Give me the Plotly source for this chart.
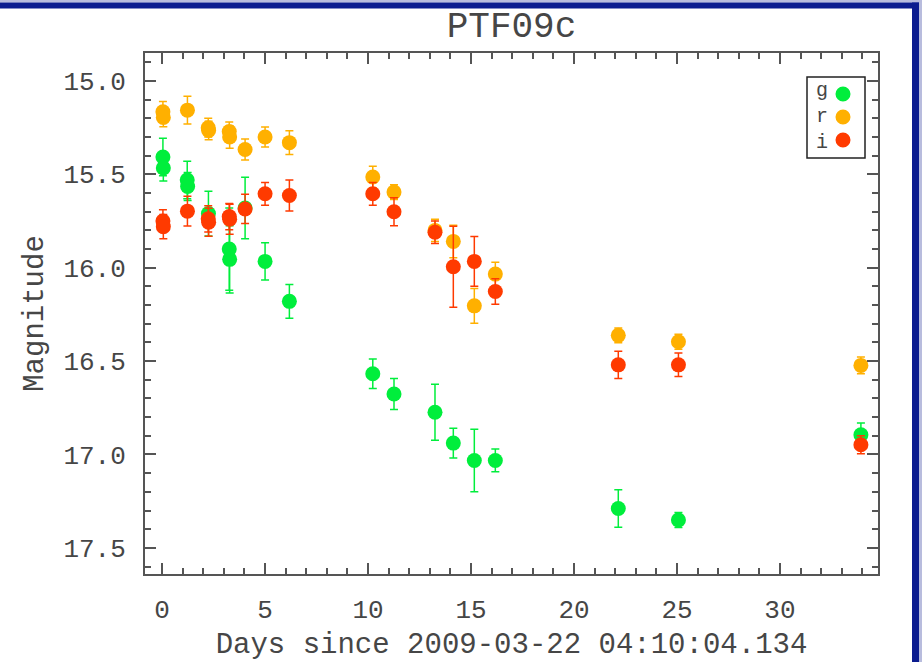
import plotly.graph_objects as go

# ---------------- data ----------------
g_days = [0.04, 0.06, 1.22, 1.24, 2.25, 3.26, 3.28, 4.03, 5.00, 6.18, 10.23, 11.26, 13.25, 14.14, 15.16, 16.18, 22.15, 25.07, 33.93]
g_mag = [15.407, 15.466, 15.53, 15.565, 15.71, 15.90, 15.955, 15.68, 15.966, 16.18, 16.568, 16.676, 16.774, 16.939, 17.032, 17.032, 17.289, 17.351, 16.894]
g_err = [0.10, 0.07, 0.10, 0.075, 0.12, 0.22, 0.18, 0.165, 0.10, 0.09, 0.079, 0.083, 0.15, 0.08, 0.167, 0.061, 0.10, 0.04, 0.063]

r_days = [0.04, 0.06, 1.23, 2.24, 2.26, 3.26, 3.28, 4.03, 5.00, 6.18, 10.23, 11.26, 13.25, 14.14, 15.16, 16.18, 22.15, 25.07, 33.93]
r_mag = [15.165, 15.195, 15.156, 15.25, 15.265, 15.27, 15.30, 15.367, 15.30, 15.33, 15.514, 15.595, 15.80, 15.859, 16.204, 16.034, 16.362, 16.396, 16.523]
r_err = [0.055, 0.05, 0.074, 0.05, 0.05, 0.05, 0.06, 0.056, 0.054, 0.063, 0.058, 0.04, 0.06, 0.087, 0.093, 0.063, 0.04, 0.04, 0.045]

i_days = [0.04, 0.06, 1.23, 2.24, 2.26, 3.26, 3.28, 4.03, 5.00, 6.18, 10.23, 11.26, 13.25, 14.14, 15.16, 16.18, 22.15, 25.07, 33.93]
i_mag = [15.75, 15.78, 15.697, 15.738, 15.756, 15.726, 15.74, 15.685, 15.604, 15.613, 15.604, 15.70, 15.81, 15.995, 15.966, 16.127, 16.52, 16.52, 16.948]
i_err = [0.06, 0.065, 0.08, 0.07, 0.075, 0.07, 0.08, 0.078, 0.061, 0.083, 0.061, 0.075, 0.06, 0.217, 0.133, 0.068, 0.073, 0.063, 0.048]

bands = ["g", "r", "i"]
band_colors = {"g": "#00EE3C", "r": "#FFB000", "i": "#FF3A00"}

title_text = "PTF09c"
x_title = "Days since 2009-03-22 04:10:04.134"
y_title = "Magnitude"

# ---------------- layout geometry (pixels) ----------------
W, H = 922, 662
L, R, T, B = 145, 878, 53, 574


def pxx(px):
    return (px - L) / (R - L)


def pxy(py):
    return (B - py) / (B - T)


FONT = "Liberation Mono, DejaVu Sans Mono, monospace"
TXT = "#464646"
AX = "#555555"

fig = go.Figure()
series = {"g": (g_days, g_mag, g_err), "r": (r_days, r_mag, r_err), "i": (i_days, i_mag, i_err)}
for b in bands:
    d, m, e = series[b]
    fig.add_trace(go.Scatter(
        x=d, y=m, mode="markers", name=b,
        marker=dict(color=band_colors[b], size=15, line=dict(width=0)),
        error_y=dict(type="data", array=e, visible=True, color=band_colors[b], thickness=1.5, width=4),
        showlegend=False,
    ))

axis_common = dict(
    showline=True, linecolor=AX, linewidth=2, mirror="allticks",
    ticks="inside", ticklen=11, tickwidth=1.5, tickcolor=AX,
    showgrid=False, zeroline=False, automargin=False,
)

fig.update_xaxes(
    range=[-0.83, 34.76], tick0=0, dtick=5,
    minor=dict(dtick=1, ticklen=6, tickcolor=AX, ticks="inside", showgrid=False),
    ticklabelstandoff=11,
    tickfont=dict(family=FONT, size=26, color=TXT),
    title=dict(text=x_title, font=dict(family=FONT, size=29, color=TXT), standoff=13),
    **axis_common,
)
fig.update_yaxes(
    range=[17.64, 14.85], tick0=15.0, dtick=0.5, tickformat=".1f",
    minor=dict(dtick=0.1, ticklen=6, tickcolor=AX, ticks="inside", showgrid=False),
    ticklabelstandoff=12,
    tickfont=dict(family=FONT, size=26, color=TXT),
    title=dict(text=y_title, font=dict(family=FONT, size=29, color=TXT), standoff=11),
    **axis_common,
)

shapes = []
# window border (blue frame at top and right)
DARK = "#0B1C8F"
LIGHT = "#B8BCDD"
shapes.append(dict(type="rect", xref="paper", yref="paper", x0=pxx(0), x1=pxx(W), y0=pxy(2.5), y1=pxy(0),
                   fillcolor=LIGHT, line=dict(width=0), layer="above"))
shapes.append(dict(type="rect", xref="paper", yref="paper", x0=pxx(0), x1=pxx(919), y0=pxy(8.5), y1=pxy(2.5),
                   fillcolor=DARK, line=dict(width=0), layer="above"))
shapes.append(dict(type="rect", xref="paper", yref="paper", x0=pxx(912), x1=pxx(919), y0=pxy(H), y1=pxy(2.5),
                   fillcolor=DARK, line=dict(width=0), layer="above"))
shapes.append(dict(type="rect", xref="paper", yref="paper", x0=pxx(919), x1=pxx(W), y0=pxy(H), y1=pxy(0),
                   fillcolor=LIGHT, line=dict(width=0), layer="above"))

# legend box (text left, dot right)
shapes.append(dict(type="rect", xref="paper", yref="paper", x0=pxx(807), x1=pxx(865), y0=pxy(158), y1=pxy(77),
                   fillcolor="white", line=dict(color="#222222", width=1.5), layer="above"))
row_y = [94, 117, 140]
for b, yy in zip(bands, row_y):
    shapes.append(dict(type="circle", xref="paper", yref="paper", xsizemode="pixel", ysizemode="pixel",
                       xanchor=pxx(843), yanchor=pxy(yy), x0=-7.5, x1=7.5, y0=-7.5, y1=7.5,
                       fillcolor=band_colors[b], line=dict(width=0), layer="above"))
annotations = [dict(text="<br>".join(bands), xref="paper", yref="paper", x=pxx(822), y=pxy(117),
                    xanchor="center", yanchor="middle", align="center", showarrow=False,
                    font=dict(family=FONT, size=20, color=TXT))]

fig.update_layout(
    width=W, height=H,
    margin=dict(l=L, r=W - R, t=T, b=H - B, pad=0),
    paper_bgcolor="white", plot_bgcolor="white",
    title=dict(text=title_text, x=0.5, xref="paper", xanchor="center",
               y=1 - 24 / H, yref="container", yanchor="middle",
               font=dict(family=FONT, size=36, color=TXT)),
    shapes=shapes, annotations=annotations,
    showlegend=False,
)

fig.write_html("out.html")
